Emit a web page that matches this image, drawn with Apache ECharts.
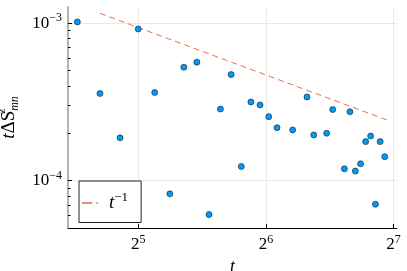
<!DOCTYPE html>
<html>
<head>
<meta charset="utf-8">
<script src="https://cdn.jsdelivr.net/npm/echarts@6/dist/echarts.min.js"></script>
<style>html,body{margin:0;padding:0;background:#fff}#c{width:407px;height:271px}</style>
</head>
<body>
<div id="c"></div>
<script>
// data
var tValues = [23, 26, 29, 32, 35, 38, 41, 44, 47, 50, 53, 56, 59, 62, 65, 68, 74, 80, 83, 89, 92, 98, 101, 104, 107, 110, 113, 116, 119, 122];
var dsValues = [1.02e-3, 3.58e-4, 1.87e-4, 9.2e-4, 3.63e-4, 8.24e-5, 5.26e-4, 5.66e-4, 6.09e-5, 2.85e-4, 4.72e-4, 1.23e-4, 3.16e-4, 3.03e-4, 2.55e-4, 2.17e-4, 2.10e-4, 3.40e-4, 1.95e-4, 2.0e-4, 2.83e-4, 1.19e-4, 2.74e-4, 1.15e-4, 1.28e-4, 1.77e-4, 1.92e-4, 7.08e-5, 1.77e-4, 1.42e-4];
var refT = [26, 125];
var refY = [1.157e-3, 2.4e-4];
var xTicks = [32, 64, 128];
var yTicks = [1e-4, 1e-3];
var yMinorTicks = [6e-5, 7e-5, 8e-5, 9e-5, 2e-4, 3e-4, 4e-4, 5e-4, 6e-4, 7e-4, 8e-4, 9e-4];

var serif = 'Liberation Serif';
var chart = echarts.init(document.getElementById('c'));
var supRich = {
  b: {fontFamily: serif, fontSize: 17, color: '#000'},
  s: {fontFamily: serif, fontSize: 12, color: '#000', padding: [0, 0, 10, 0]}
};
var xMin = 21.86, xMax = 130.4, yMin = 5e-5, yMax = 1.269e-3;
chart.setOption({
  animation: false,
  grid: {left: 68, right: 10, top: 7, bottom: 43, outerBoundsMode: 'none', containLabel: false},
  legend: {
    left: 79, top: 181,
    orient: 'vertical',
    backgroundColor: '#fff', borderColor: '#222', borderWidth: 1, borderRadius: 0,
    padding: [10, 13, 10, 3],
    itemWidth: 16, itemHeight: 10, itemGap: 0,
    data: [{name: 'ref', icon: 'path://M0,4.4L9,4.4L9,5.6L0,5.6ZM12.5,4.4L14,4.4L14,5.6L12.5,5.6Z'}],
    formatter: function () { return '{i|t}{s|−1}'; },
    textStyle: {
      padding: [0, 0, 0, 6],
      rich: {
        i: {fontFamily: serif, fontStyle: 'italic', fontSize: 19, color: '#000'},
        s: {fontFamily: serif, fontSize: 13, color: '#000', padding: [0, 0, 11, 0]}
      }
    }
  },
  xAxis: {
    type: 'log', logBase: 2, min: xMin, max: xMax,
    name: 't', nameLocation: 'middle', nameGap: 25,
    nameTextStyle: {fontFamily: serif, fontStyle: 'italic', fontSize: 18, color: '#000'},
    axisLine: {lineStyle: {color: '#000', width: 1}},
    axisTick: {inside: true, length: 4, customValues: xTicks, lineStyle: {color: '#000'}},
    axisLabel: {
      customValues: xTicks, margin: 6,
      formatter: function (v) { return '{b|2}{s|' + Math.round(Math.log2(v)) + '}'; },
      rich: supRich
    },
    splitLine: {show: true, lineStyle: {color: '#e8e8e8', width: 1}},
    minorTick: {show: false}
  },
  yAxis: [{
    type: 'log', logBase: 10, min: yMin, max: yMax,
    name: '{i|t}{n|ΔS}{sp|z}{sb|mn}', nameLocation: 'middle', nameGap: 44, nameRotate: 90,
    nameTextStyle: {
      rich: {
        i: {fontFamily: serif, fontStyle: 'italic', fontSize: 19, color: '#000'},
        n: {fontFamily: serif, fontSize: 19, color: '#000'},
        sp: {fontFamily: serif, fontStyle: 'italic', fontSize: 12, color: '#000', width: 0, padding: [0, 0, 13, 0]},
        sb: {fontFamily: serif, fontStyle: 'italic', fontSize: 12, color: '#000', padding: [4, 0, 0, 0], verticalAlign: 'bottom'}
      }
    },
    axisLine: {lineStyle: {color: '#999', width: 1.5}},
    axisTick: {inside: true, length: 4, customValues: yTicks, lineStyle: {color: '#000'}},
    axisLabel: {
      customValues: yTicks, margin: 6,
      formatter: function (v) { return '{b|10}{s|−' + Math.round(-Math.log10(v)) + '}'; },
      rich: supRich
    },
    splitLine: {show: true, lineStyle: {color: '#e8e8e8', width: 1}}
  }, {
    type: 'log', logBase: 10, min: yMin, max: yMax, position: 'left',
    axisLine: {show: false},
    axisTick: {inside: true, length: 2.5, customValues: yMinorTicks, lineStyle: {color: '#000'}},
    axisLabel: {show: false},
    splitLine: {show: false}
  }],
  series: [{
    name: 'ref', type: 'line', showSymbol: false, symbol: 'none',
    data: refT.map(function (t, i) { return [t, refY[i]]; }),
    lineStyle: {color: '#E26F46', width: 1, type: [6, 4]},
    itemStyle: {color: '#E26F46'},
    z: 3
  }, {
    name: 'data', type: 'scatter',
    data: tValues.map(function (t, i) { return [t, dsValues[i]]; }),
    symbolSize: 6,
    itemStyle: {color: '#009AFA', borderColor: '#1a1a1a', borderWidth: 0.6, opacity: 1},
    z: 4
  }]
});
</script>
</body>
</html>
